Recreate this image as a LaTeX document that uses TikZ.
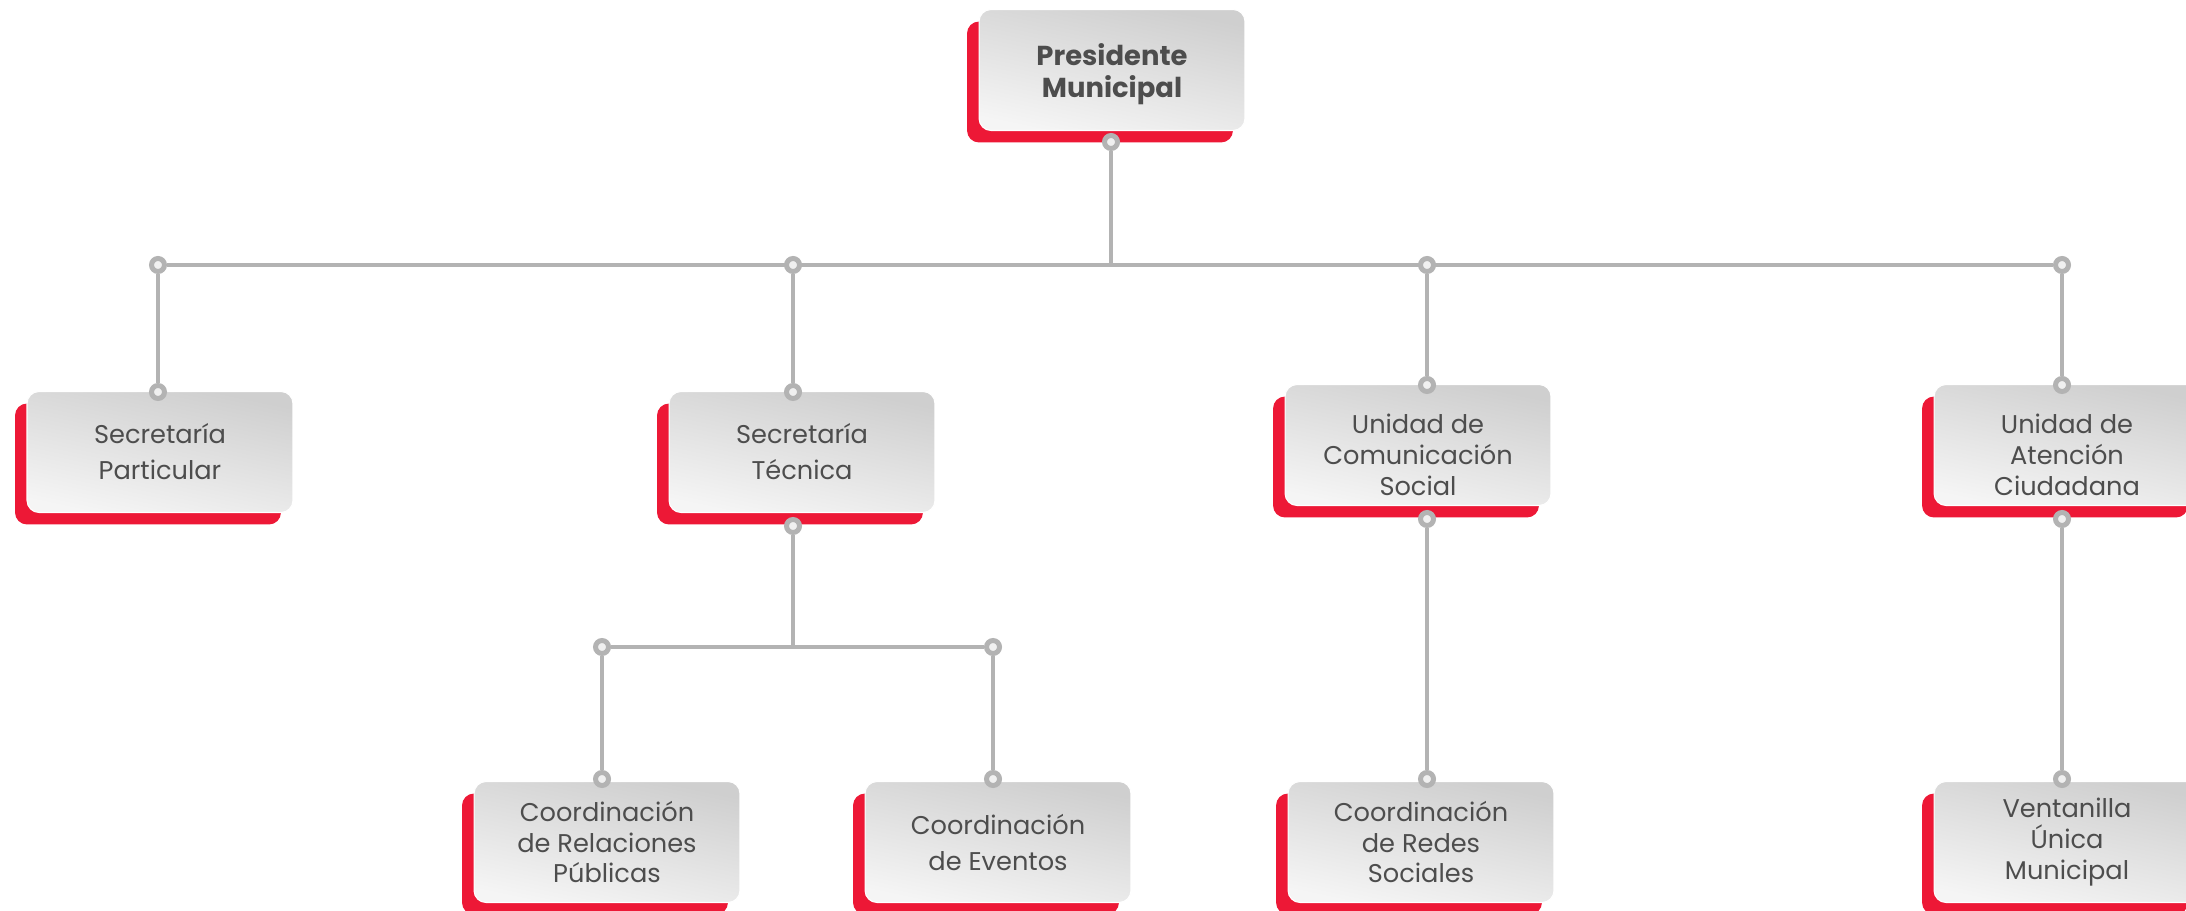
\documentclass[tikz,border=0pt]{standalone}
\usepackage{fontspec}
\setmainfont{Poppins}
\usetikzlibrary{shadows,backgrounds}
\definecolor{rojo}{RGB}{237,24,54}
\definecolor{linea}{RGB}{179,179,179}
\definecolor{texto}{RGB}{77,77,77}
\newcommand{\bajar}[1]{\rule{0pt}{#1}}
\tikzset{
  caja/.style={rectangle, rounded corners=0.24cm, minimum width=5.32cm, minimum height=2.42cm,
    draw=white, line width=0.6pt, top color=gray!38, bottom color=gray!8, shading angle=-12,
    text=texto, align=center, font=\fontsize{14.6}{20.5}\selectfont,
    general shadow={fill=rojo, shadow xshift=-0.24cm, shadow yshift=-0.24cm}},
  tres/.style={font=\fontsize{14.6}{17.6}\selectfont},
  punto/.style={circle, draw=linea, line width=0.1cm, fill=gray!12, inner sep=0pt, minimum size=0.26cm},
  rama/.style={draw=linea, line width=0.08cm}
}
\begin{document}
\begin{tikzpicture}[x=0.02cm, y=-0.02cm]
\useasboundingbox (0,0) rectangle (2186,911);
% cajas
\node[caja, font=\bfseries\fontsize{15.6}{18.2}\selectfont] (pres) at (1112,70) {\bajar{17pt}Presidente\\Municipal};
\node[caja] (spart) at (160,452) {Secretaría\\Particular};
\node[caja] (stec) at (802,452) {Secretaría\\Técnica};
\node[caja, tres] (ucom) at (1418,445) {\bajar{22pt}Unidad de\\Comunicación\\Social};
\node[caja, tres] (uaten) at (2067,445) {\bajar{22pt}Unidad de\\Atención\\Ciudadana};
\node[caja, tres] (crel) at (607,842) {Coordinación\\de Relaciones\\Públicas};
\node[caja] (ceve) at (998,842) {Coordinación\\de Eventos};
\node[caja, tres] (cred) at (1421,842) {Coordinación\\de Redes\\Sociales};
\node[caja, tres] (vent) at (2067,842) {Ventanilla\\Única\\Municipal};
% puntos de union
\foreach \n/\x/\y in {p0/1111/142, b1/158/265, b2/793/265, b3/1427/265, b4/2062/265,
    s1/158/392, s2/793/392, s3/1427/385, s4/2062/385,
    i2/793/526, i3/1427/519, i4/2062/519,
    c1/602/647, c2/993/647,
    t1/602/779, t2/993/779, t3/1427/779, t4/2062/779}
  \node[punto] (\n) at (\x,\y) {};
\coordinate (j0) at (1111,265);
\coordinate (j1) at (793,647);
% lineas
\begin{scope}[on background layer]
  \draw[rama] (p0) -- (j0);
  \draw[rama] (b1) -- (b4);
  \foreach \a/\b in {b1/s1, b2/s2, b3/s3, b4/s4, i3/t3, i4/t4, c1/t1, c2/t2}
    \draw[rama] (\a) -- (\b);
  \draw[rama] (i2) -- (j1);
  \draw[rama] (c1) -- (c2);
\end{scope}
\end{tikzpicture}
\end{document}
